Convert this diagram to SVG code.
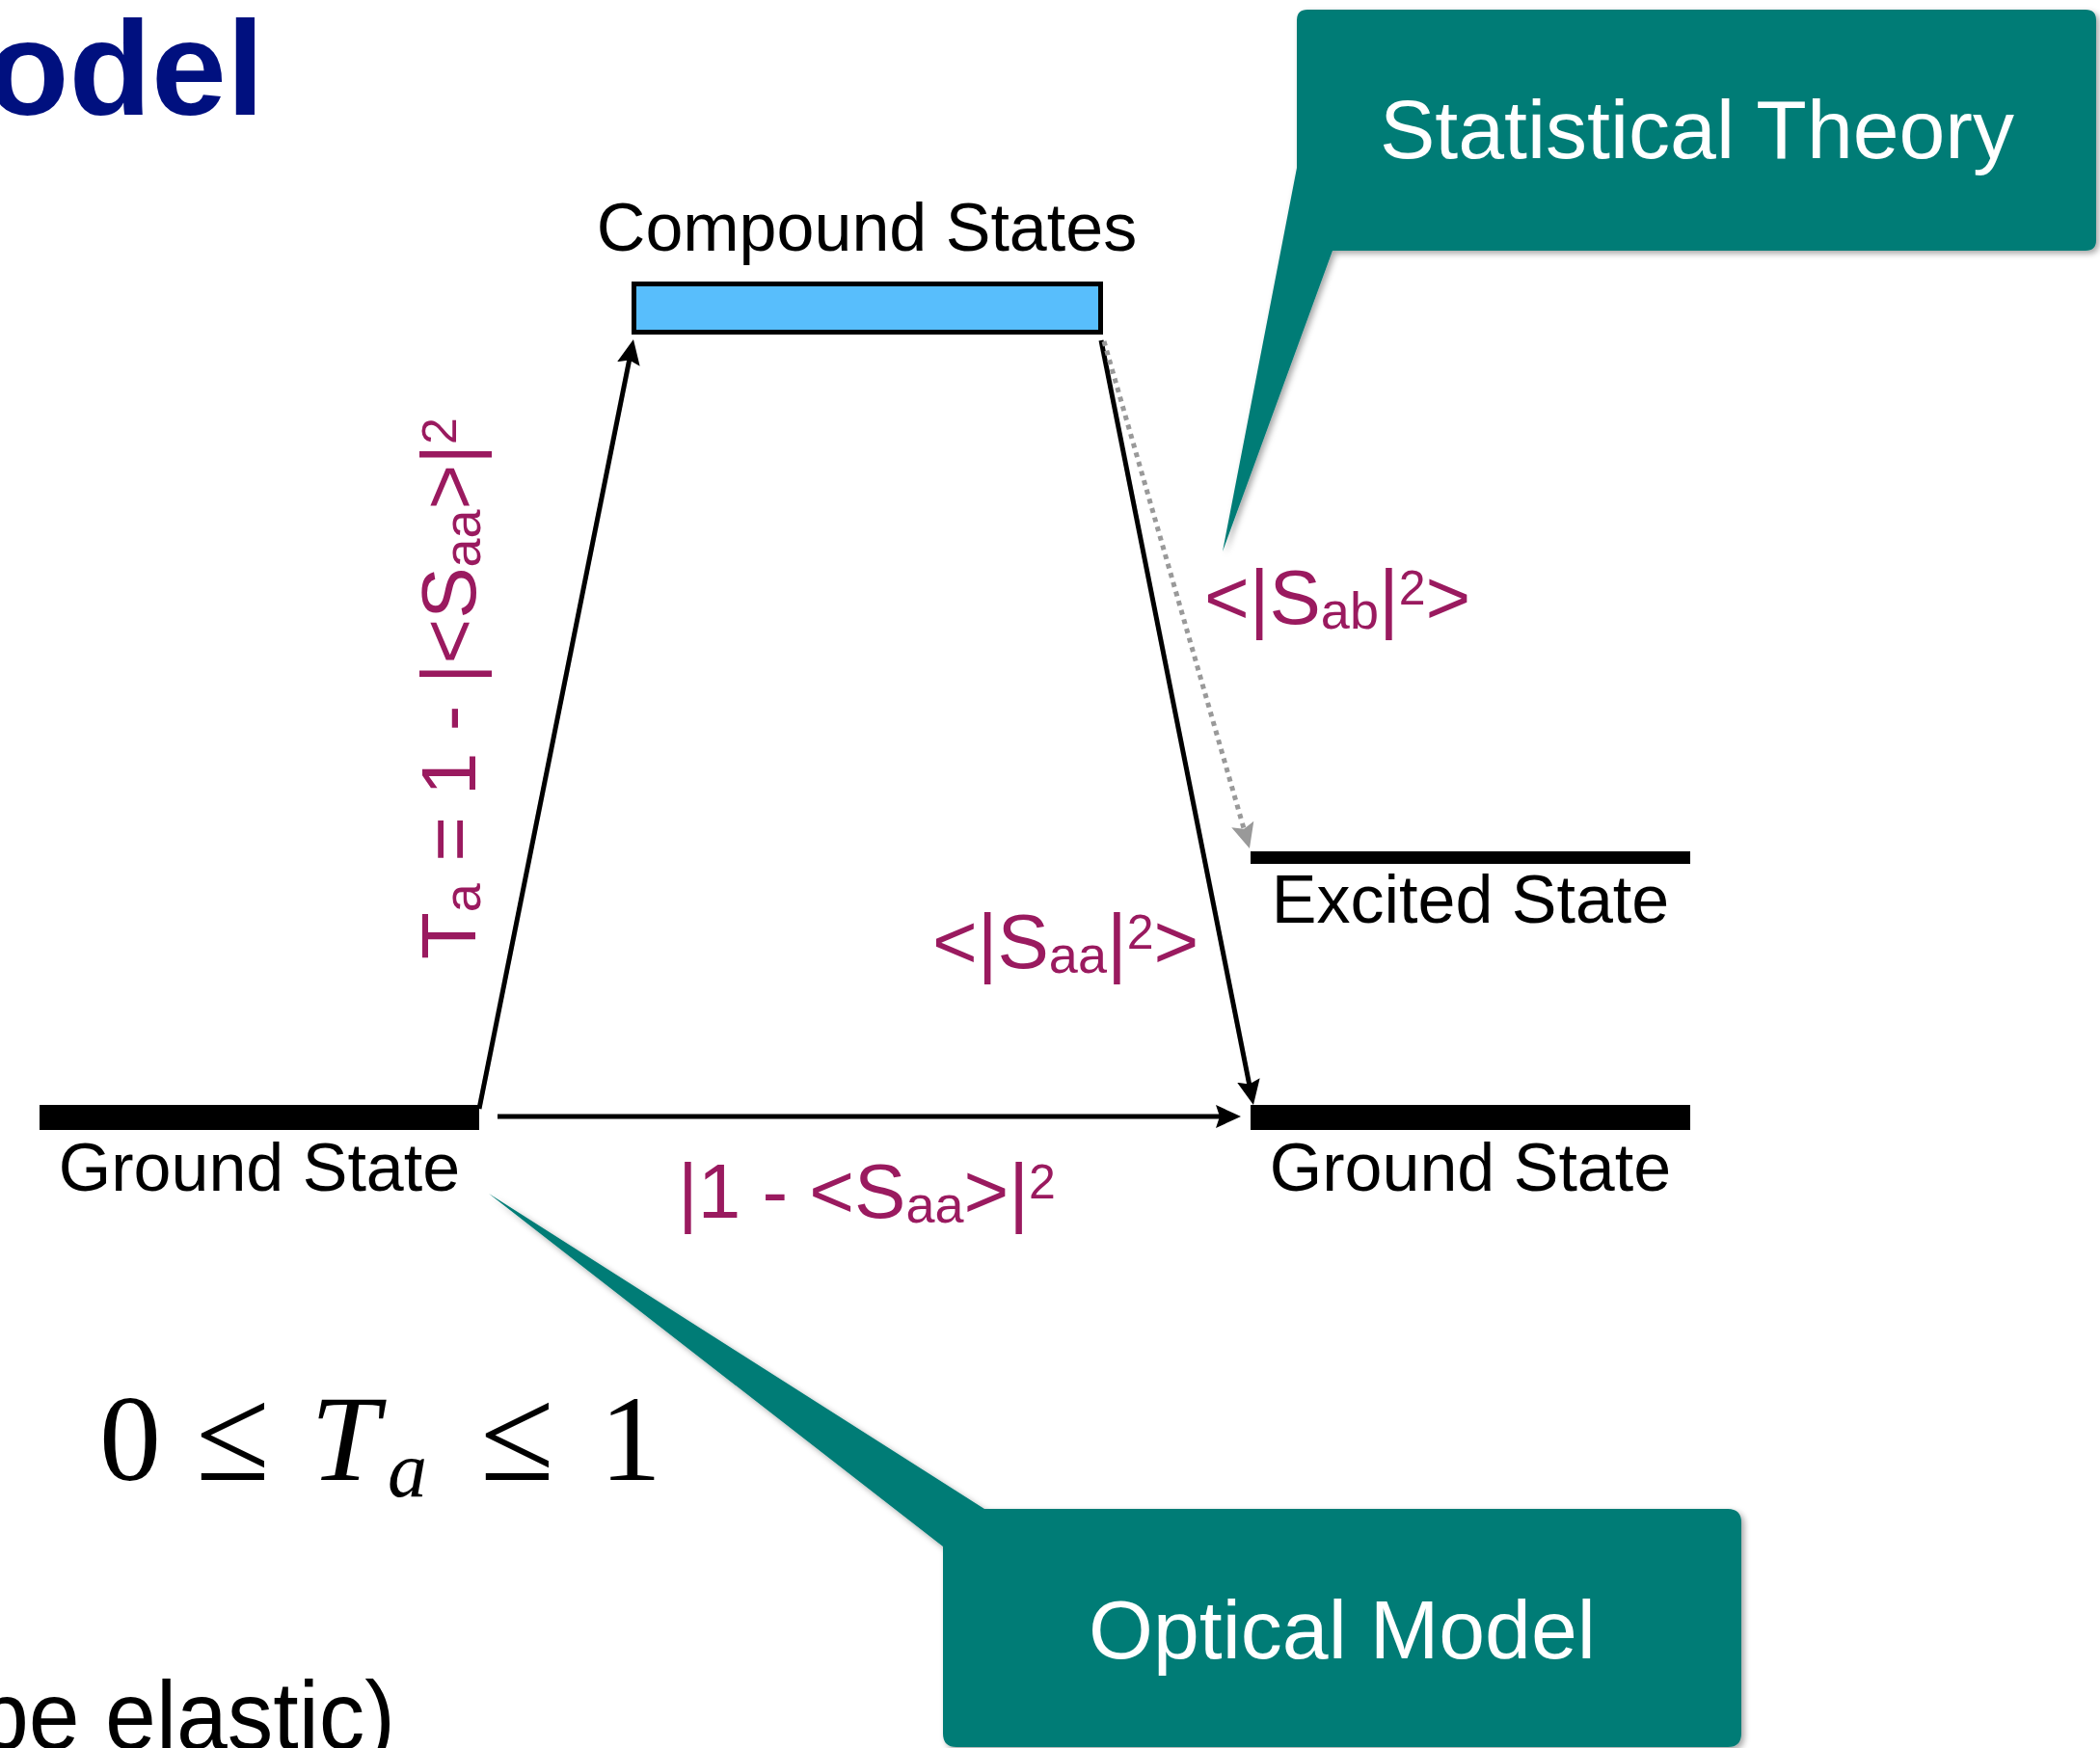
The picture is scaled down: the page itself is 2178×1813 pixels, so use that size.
<svg xmlns="http://www.w3.org/2000/svg" width="2178" height="1813" viewBox="0 0 2178 1813">
<defs>
<style>
.lbl{font-family:"Liberation Sans",Arial,sans-serif;font-size:70px;fill:#000}
.mag{font-family:"Liberation Sans",Arial,sans-serif;font-size:80px;fill:#9A1A5F}
.call{font-family:"Liberation Sans",Arial,sans-serif;font-size:86px;fill:#fff}
.bubble{fill:#017C76}
.bar{fill:#000}
.arr{stroke:#000;stroke-width:5;fill:none}
.dot{stroke:#999;stroke-width:5;stroke-dasharray:5 5;fill:none}
.math{font-family:"Liberation Serif","Times New Roman",serif;font-size:128px;fill:#000}
</style>
<filter id="sh" x="-10%" y="-10%" width="130%" height="130%">
<feDropShadow dx="3" dy="3" stdDeviation="3" flood-color="#000" flood-opacity="0.35"/>
</filter>
<marker id="ah" viewBox="0 0 26 24" refX="16" refY="12" markerWidth="26" markerHeight="24" markerUnits="userSpaceOnUse" orient="auto">
<path d="M0,0 L26,12 L0,24 L4,12 Z" fill="#000"/>
</marker>
<marker id="ahg" viewBox="0 0 26 24" refX="16" refY="12" markerWidth="26" markerHeight="24" markerUnits="userSpaceOnUse" orient="auto">
<path d="M0,0 L26,12 L0,24 L5,12 Z" fill="#999"/>
</marker>
</defs>
<rect width="2178" height="1813" fill="#fff"/>

<g id="title">
<text x="-14" y="119" font-family="Liberation Sans,Arial,sans-serif" font-weight="bold" font-size="140" fill="#00107F">odel</text>
</g>

<g id="statistical-theory">
<path class="bubble" filter="url(#sh)" d="M1345,174 L1345,21 Q1345,10 1356,10 L2163,10 Q2174,10 2174,21 L2174,249 Q2174,260 2163,260 L1382,260 L1268,572 Z"/>
<text class="call" x="1760" y="164" text-anchor="middle">Statistical Theory</text>
</g>

<g id="optical-model">
<path class="bubble" filter="url(#sh)" d="M1021,1565 L1792,1565 Q1806,1565 1806,1579 L1806,1798 Q1806,1812 1792,1812 L992,1812 Q978,1812 978,1798 L978,1604 L507,1238 Z"/>
<text class="call" x="1392" y="1720" text-anchor="middle">Optical Model</text>
</g>

<g id="compound-states">
<rect x="657.5" y="294.5" width="484" height="50" fill="#58BEFC" stroke="#000" stroke-width="5"/>
<text class="lbl" x="899" y="260" text-anchor="middle">Compound States</text>
</g>

<g id="ground-state-left">
<rect class="bar" x="41" y="1146" width="456" height="26"/>
<text class="lbl" x="269" y="1235" text-anchor="middle">Ground State</text>
</g>

<g id="ground-state-right">
<rect class="bar" x="1297" y="1146" width="456" height="26"/>
<text class="lbl" x="1525" y="1235" text-anchor="middle">Ground State</text>
</g>

<g id="excited-state">
<rect class="bar" x="1297" y="883" width="456" height="13"/>
<text class="lbl" x="1525" y="957" text-anchor="middle">Excited State</text>
</g>

<g id="connectors">
<line class="arr" x1="497" y1="1150" x2="655" y2="361.8" marker-end="url(#ah)"/>
<line class="arr" x1="516" y1="1158" x2="1277" y2="1158" marker-end="url(#ah)"/>
<line class="arr" x1="1142" y1="353" x2="1298" y2="1136.2" marker-end="url(#ah)"/>
<line class="dot" x1="1145" y1="354" x2="1293.2" y2="870.4" marker-end="url(#ahg)"/>
</g>

<g id="labels">
<text class="mag" transform="translate(493,995) rotate(-90)">T<tspan font-size="54" dy="5">a</tspan><tspan dy="-5"> = 1 - |&lt;S</tspan><tspan font-size="54" dy="5">aa</tspan><tspan dy="-5">&gt;|</tspan><tspan font-size="50" dy="-20">2</tspan></text>
<text class="mag" x="703" y="1263">|1 - &lt;S<tspan font-size="54" dy="5">aa</tspan><tspan dy="-5">&gt;|</tspan><tspan font-size="50" dy="-20">2</tspan></text>
<text class="mag" x="1249" y="647">&lt;|S<tspan font-size="54" dy="5">ab</tspan><tspan dy="-5">|</tspan><tspan font-size="50" dy="-20">2</tspan><tspan dy="20">&gt;</tspan></text>
<text class="mag" x="967" y="1004">&lt;|S<tspan font-size="54" dy="5">aa</tspan><tspan dy="-5">|</tspan><tspan font-size="50" dy="-20">2</tspan><tspan dy="20">&gt;</tspan></text>
</g>

<g id="inequality">
<text class="math"><tspan x="103" y="1535">0</tspan><tspan x="203" y="1535" font-size="140">≤</tspan><tspan x="322" y="1535" font-style="italic">T</tspan><tspan x="402" y="1552" font-size="82" font-style="italic">a</tspan><tspan x="498" y="1535" font-size="140">≤</tspan><tspan x="622" y="1535">1</tspan></text>
</g>

<g id="body-text">
<text x="-23" y="1814" font-family="Liberation Sans,Arial,sans-serif" font-size="100" fill="#000" textLength="433" lengthAdjust="spacingAndGlyphs">be elastic)</text>
</g>
</svg>
